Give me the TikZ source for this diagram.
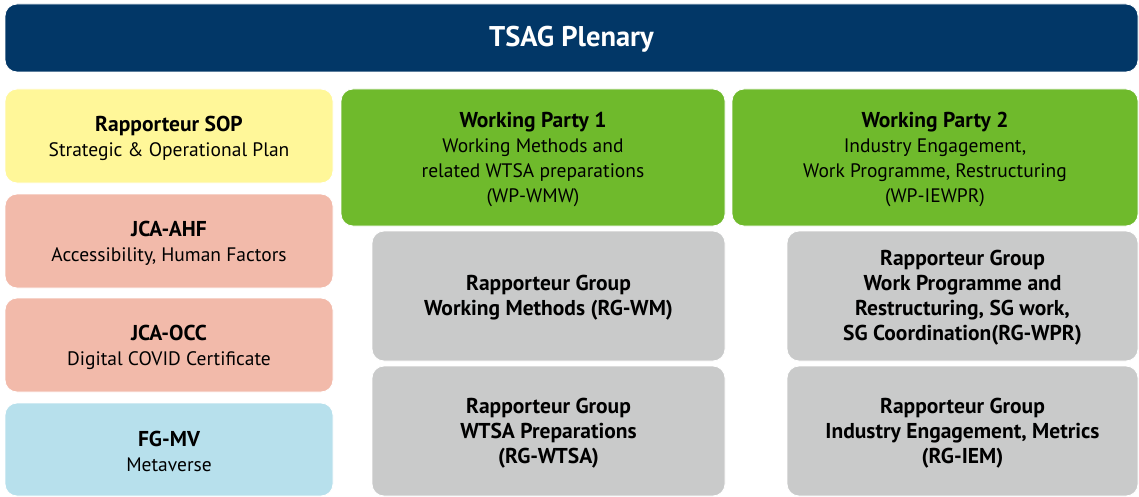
\documentclass[tikz,border=0pt]{standalone}
\usepackage{fontspec}
\setmainfont{PT Sans}
\definecolor{navy}{HTML}{023767}
\definecolor{sopy}{HTML}{FFF799}
\definecolor{jca}{HTML}{F2BAAA}
\definecolor{fgb}{HTML}{B7E0EC}
\definecolor{wpg}{HTML}{6FBA2C}
\definecolor{rgg}{HTML}{C9CACA}
\newcommand{\hd}[1]{{\fontsize{21.5}{25}\selectfont\bfseries #1}}
\begin{document}
\begin{tikzpicture}[x=1pt,y=-1pt,
  box/.style={draw=white,line width=0.8pt,rounded corners=12pt,inner sep=0pt},
  txt/.style={inner sep=0pt,align=center,font=\fontsize{19.5}{25}\selectfont,text=black},
  btxt/.style={txt,font=\fontsize{21.5}{25}\selectfont\bfseries},
  title/.style={inner sep=0pt,text=white,font=\fontsize{28.5}{30}\selectfont\bfseries}]
\useasboundingbox (0,0) rectangle (1139,497);
\node[box,fill=navy,minimum width=1133pt,minimum height=68pt] (tsag) at (571.5,38) {};
\node[title] (tsagt) at ([yshift=-1pt]tsag.center) {TSAG Plenary};
\node[box,fill=sopy,minimum width=328pt,minimum height=94pt] (sop) at (169,136) {};
\node[txt] (sopt) at ([yshift=-2pt]sop.center) {\hd{Rapporteur SOP}\\Strategic \& Operational Plan};
\node[box,fill=jca,minimum width=328pt,minimum height=94pt] (ahf) at (169,241) {};
\node[txt] (ahft) at ([yshift=-2pt]ahf.center) {\hd{JCA-AHF}\\Accessibility, Human Factors};
\node[box,fill=jca,minimum width=328pt,minimum height=94pt] (occ) at (169,345) {};
\node[txt] (occt) at ([yshift=-2pt]occ.center) {\hd{JCA-OCC}\\Digital COVID Certificate};
\node[box,fill=fgb,minimum width=328pt,minimum height=93pt] (mv) at (169,449.5) {};
\node[txt] (mvt) at ([yshift=-2pt]mv.center) {\hd{FG-MV}\\Metaverse};
\node[box,fill=wpg,minimum width=384pt,minimum height=137pt] (wp1) at (533,157.5) {};
\node[txt] (wp1t) at ([yshift=-2pt]wp1.center) {\hd{Working Party 1}\\Working Methods and\\related WTSA preparations\\(WP-WMW)};
\node[box,fill=wpg,minimum width=406pt,minimum height=137pt] (wp2) at (935,157.5) {};
\node[txt] (wp2t) at ([yshift=-2pt]wp2.center) {\hd{Working Party 2}\\Industry Engagement,\\Work Programme, Restructuring\\(WP-IEWPR)};
\node[box,fill=rgg,minimum width=353pt,minimum height=130pt] (rgwm) at (548.5,296) {};
\node[btxt] (rgwmt) at ([yshift=-2pt]rgwm.center) {Rapporteur Group\\Working Methods (RG-WM)};
\node[box,fill=rgg,minimum width=353pt,minimum height=130pt] (rgwtsa) at (548.5,431) {};
\node[btxt] (rgwtsat) at ([yshift=-2pt]rgwtsa.center) {Rapporteur Group\\WTSA Preparations\\(RG-WTSA)};
\node[box,fill=rgg,minimum width=351pt,minimum height=130pt] (rgwpr) at (962.5,296) {};
\node[btxt] (rgwprt) at ([yshift=-2pt]rgwpr.center) {Rapporteur Group\\Work Programme and\\Restructuring, SG work,\\SG Coordination(RG-WPR)};
\node[box,fill=rgg,minimum width=351pt,minimum height=130pt] (rgiem) at (962.5,431) {};
\node[btxt] (rgiemt) at ([yshift=-2pt]rgiem.center) {Rapporteur Group\\Industry Engagement, Metrics\\(RG-IEM)};
\end{tikzpicture}
\end{document}
